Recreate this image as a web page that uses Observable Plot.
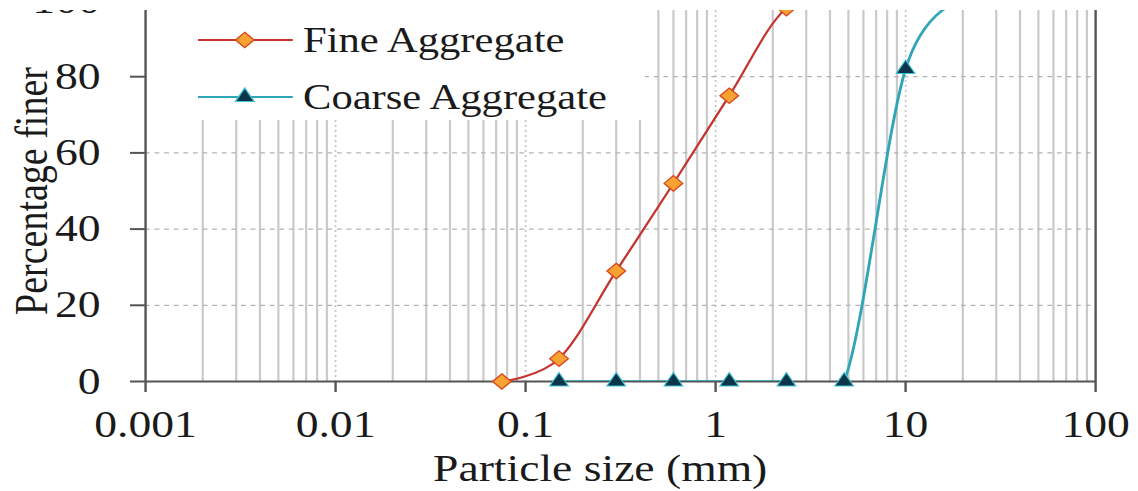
<!DOCTYPE html>
<html>
<head>
<meta charset="utf-8">
<script src="https://cdn.jsdelivr.net/npm/d3@7"></script>
<script src="https://cdn.jsdelivr.net/npm/@observablehq/plot@0.6"></script>
<style>
  html, body { margin: 0; padding: 0; background: #fff; }
  #chart svg { display: block; }
</style>
</head>
<body>
<div id="chart"></div>
<script>
// ---- data ----
const fineSize = [0.075, 0.15, 0.3, 0.6, 1.18, 2.36, 4.75];
const finePct = [0, 6, 29, 52, 75, 98, 100];
const coarseSize = [0.15, 0.3, 0.6, 1.18, 2.36, 4.75, 10, 20];
const coarsePct = [0, 0, 0, 0, 0, 0, 82, 100];
const xTicks = [0.001, 0.01, 0.1, 1, 10, 100];
const xTickLabels = ["0.001", "0.01", "0.1", "1", "10", "100"];
const yTicks = [0, 20, 40, 60, 80, 100];
const seriesNames = ["Fine Aggregate", "Coarse Aggregate"];
const xLabel = "Particle size (mm)";
const yLabel = "Percentage finer";

const fine = fineSize.map((s, i) => ({size: s, pct: finePct[i]}));
const coarse = coarseSize.map((s, i) => ({size: s, pct: coarsePct[i]}));
const minorX = xTicks.slice(0, -1).flatMap(d => d3.range(2, 10).map(k => d * k));
const majorX = xTicks.slice(1, -1);

// ---- layout ----
const W = 1138, H = 491, S = 1.2;
const Wd = W / S;
const FONT = "'Liberation Serif', 'Times New Roman', serif";
const FINE_LINE = "#c53530", FINE_FILL = "#f7a232", FINE_STROKE = "#d8461e";
const COARSE_LINE = "#2fa6b8", COARSE_FILL = "#0d3549", COARSE_STROKE = "#3fc3d3";
const AXIS = "#555";
const rFine = 7, rCoarse = 5.8;

function legend() {
  const g = d3.create("svg:g");
  g.append("rect").attr("x", 122.5).attr("y", 0).attr("width", 537.5 - 122.5).attr("height", 120).attr("fill", "white");
  const items = [
    {name: seriesNames[0], y: 40, line: FINE_LINE, sym: d3.symbolDiamond2, r: rFine, fill: FINE_FILL, stroke: FINE_STROKE},
    {name: seriesNames[1], y: 97, line: COARSE_LINE, sym: d3.symbolTriangle, r: rCoarse, fill: COARSE_FILL, stroke: COARSE_STROKE}
  ];
  for (const it of items) {
    g.append("line").attr("x1", 165).attr("x2", 244).attr("y1", it.y).attr("y2", it.y)
      .attr("stroke", it.line).attr("stroke-width", 2);
    g.append("path").attr("d", d3.symbol(it.sym, Math.PI * it.r * it.r)())
      .attr("transform", `translate(204,${it.y})`).attr("fill", it.fill).attr("stroke", it.stroke).attr("stroke-width", 1.2);
    g.append("text").attr("x", 252.5).attr("y", it.y).attr("dy", "0.34em").attr("text-anchor", "start")
      .attr("font-size", 35.5).attr("fill", "#1a1a1a").attr("font-family", FONT).text(it.name);
  }
  return g.node();
}

// white band at the very top (the picture is cropped there)
function topBand(index, scales, values, dims) {
  const g = d3.create("svg:g");
  g.append("rect").attr("x", 0).attr("y", -20).attr("width", dims.width).attr("height", 30).attr("fill", "white");
  return g.node();
}

const svg = Plot.plot({
  width: Wd,
  height: H,
  marginLeft: 120.8,
  marginRight: Wd - 912.5,
  marginTop: 0,
  marginBottom: 110,
  x: {type: "log", domain: [0.001, 100]},
  y: {domain: [0, 100]},
  style: {fontFamily: FONT, background: "white", color: "#1a1a1a", overflow: "hidden"},
  marks: [
    Plot.ruleX(minorX, {stroke: "#c9c9c9", strokeWidth: 1.8}),
    Plot.ruleX(majorX, {stroke: "#c4c4c4", strokeWidth: 1.4, strokeDasharray: "2,3"}),
    Plot.ruleY(yTicks.slice(1), {stroke: "#b4b4b4", strokeWidth: 1.2, strokeDasharray: "4,4"}),
    legend,
    Plot.ruleX([xTicks[0], xTicks[xTicks.length - 1]], {stroke: AXIS, strokeWidth: 2}),
    Plot.ruleY([0], {stroke: AXIS, strokeWidth: 2}),
    Plot.line(fine, {x: "size", y: "pct", curve: "cardinal", stroke: FINE_LINE, strokeWidth: 2, clip: true}),
    Plot.line(coarse, {x: "size", y: "pct", curve: "cardinal", stroke: COARSE_LINE, strokeWidth: 2.4, clip: true}),
    Plot.dot(coarse, {x: "size", y: "pct", symbol: "triangle", r: rCoarse, fill: COARSE_FILL, stroke: COARSE_STROKE, strokeWidth: 1}),
    Plot.dot(fine, {x: "size", y: "pct", symbol: "diamond2", r: rFine, fill: FINE_FILL, stroke: FINE_STROKE, strokeWidth: 1.2}),
    Plot.axisX(xTicks, {tickSize: 11, tickPadding: 18, fontSize: 38, stroke: AXIS, strokeWidth: 2, fill: "#1a1a1a",
      tickFormat: d => xTickLabels[xTicks.indexOf(d)], label: null}),
    Plot.axisY(yTicks, {tickSize: 12.5, tickPadding: 25, fontSize: 38, stroke: AXIS, strokeWidth: 2, fill: "#1a1a1a",
      tickFormat: d => String(d), label: null}),
    topBand,
    Plot.text([xLabel], {frameAnchor: "bottom", dx: -17, dy: 99, fontSize: 38, fill: "#1a1a1a", textAnchor: "middle"}),
    Plot.text([yLabel], {frameAnchor: "left", dx: -94.5, rotate: -90, fontSize: 38, fill: "#1a1a1a", textAnchor: "middle"})
  ]
});

svg.setAttribute("width", W);
svg.setAttribute("height", H);
svg.setAttribute("preserveAspectRatio", "none");
svg.style.width = W + "px";
svg.style.height = H + "px";
svg.style.maxWidth = "none";
document.getElementById("chart").appendChild(svg);
</script>
</body>
</html>
